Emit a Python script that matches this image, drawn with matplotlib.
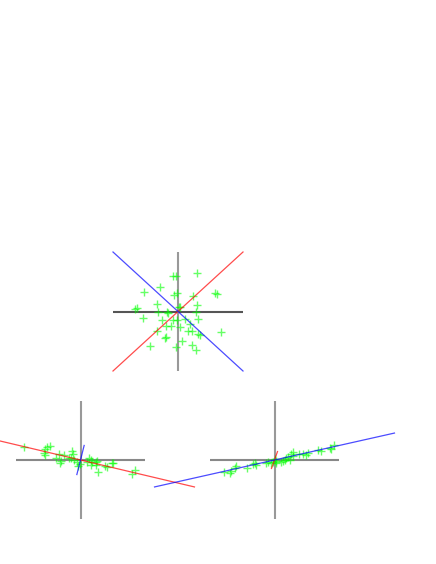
import numpy as np
import matplotlib
matplotlib.use('Agg')
import matplotlib.pyplot as plt

# original data (middle panel)
x_orig = [-0.24, -0.09, 0.86, -0.83, -1.56, -0.18, -0.06, 0.68, 1.71, 1.81,
          -1.91, -1.98, -0.98, 0.09, 0.03, 0.86, -0.91, -0.45, -0.52, 0.82,
          -1.60, -0.75, -0.22, -0.03, 0.91, 0.32, -0.55, -0.34, 0.09, 0.55,
          0.48, 0.63, -0.98, 1.02, 0.94, 1.97, -0.60, -0.55, 0.17, -1.29,
          -0.09, 0.66, 0.82]
y_orig = [1.77, 1.77, 1.93, 1.23, 0.99, 0.81, 0.92, 0.76, 0.92, 0.86,
          0.17, 0.14, 0.39, 0.25, 0.22, 0.35, -0.02, -0.07, -0.05, -0.04,
          -0.32, -0.42, -0.45, -0.42, -0.39, -0.39, -0.71, -0.71, -0.79, -0.62,
          -0.96, -0.96, -0.96, -1.16, -1.12, -1.01, -1.35, -1.30, -1.50, -1.73,
          -1.80, -1.68, -1.93]

# stretched along red axis (bottom left)
x_left = [-2.64, -1.55, -1.43, -1.63, -1.71, -1.63, -1.01, -0.78, -1.16, -0.93,
          -0.96, -0.39, -0.34, -0.54, -0.43, -0.31, -0.15, -0.03, -0.11, 0.39,
          0.47, 0.31, 0.54, 0.70, 0.78, 0.47, 0.70, 1.13, 1.24, 1.47,
          1.52, 0.80, 2.40, 2.53]
y_left = [0.64, 0.64, 0.71, 0.54, 0.34, 0.25, 0.29, 0.25, 0.12, -0.05,
          -0.17, 0.46, 0.29, 0.12, 0.09, 0.0, -0.09, -0.20, -0.29, 0.12,
          0.0, -0.09, -0.09, -0.09, -0.04, -0.25, -0.25, -0.32, -0.36, -0.14,
          -0.17, -0.59, -0.71, -0.51]

# stretched along blue axis (bottom right)
x_right = [2.79, 2.56, 2.64, 2.01, 2.17, 1.55, 1.47, 1.32, 1.16, 0.85,
           0.78, 0.88, 0.62, 0.54, 0.47, 0.70, 0.31, 0.39, 0.0, 0.05,
           -0.08, -0.15, 0.08, -0.39, -0.31, -0.93, -0.88, -0.98, -1.27, -1.78,
           -1.86, -2.01, -2.09, -2.37]
y_right = [0.76, 0.59, 0.54, 0.51, 0.46, 0.34, 0.25, 0.29, 0.29, 0.42,
           0.29, 0.20, 0.17, 0.09, 0.0, 0.0, -0.09, -0.05, 0.05, -0.04,
           -0.09, -0.17, -0.14, -0.17, -0.09, -0.17, -0.25, -0.22, -0.39, -0.30,
           -0.42, -0.56, -0.64, -0.59]

# axis directions (end points, line is symmetric about the origin)
red_orig = (3.0, 3.0)
blue_orig = (3.0, -3.0)
red_left = (5.3, -1.37)
blue_left = (0.17, 0.74)
red_right = (0.14, 0.43)
blue_right = (5.58, 1.37)


def draw_panel(ax, xs, ys, red, blue, hcolor='#888888'):
    ax.axhline(0, color=hcolor, lw=1.5)
    ax.axvline(0, color='#999999', lw=1.5)
    ax.plot(xs, ys, '+', color='#00ff00', ms=6, mew=1, alpha=0.6)
    ax.plot([-red[0], red[0]], [-red[1], red[1]], color='r', lw=0.9,
            alpha=0.7, clip_on=False)
    ax.plot([-blue[0], blue[0]], [-blue[1], blue[1]], color='b', lw=0.9,
            alpha=0.7, clip_on=False)
    ax.set_xlim(-3, 3)
    ax.set_ylim(-3, 3)
    ax.axis('off')


fig = plt.figure(figsize=(4.36, 5.64), dpi=100)

ax1 = fig.add_axes([113 / 436, 193 / 564, 130 / 436, 119 / 564])
draw_panel(ax1, x_orig, y_orig, red_orig, blue_orig, hcolor='#555555')

ax2 = fig.add_axes([16 / 436, 45 / 564, 129 / 436, 118 / 564])
draw_panel(ax2, x_left, y_left, red_left, blue_left)

ax3 = fig.add_axes([210 / 436, 45 / 564, 129 / 436, 118 / 564])
draw_panel(ax3, x_right, y_right, red_right, blue_right)

fig.savefig('out.png', dpi=100)
